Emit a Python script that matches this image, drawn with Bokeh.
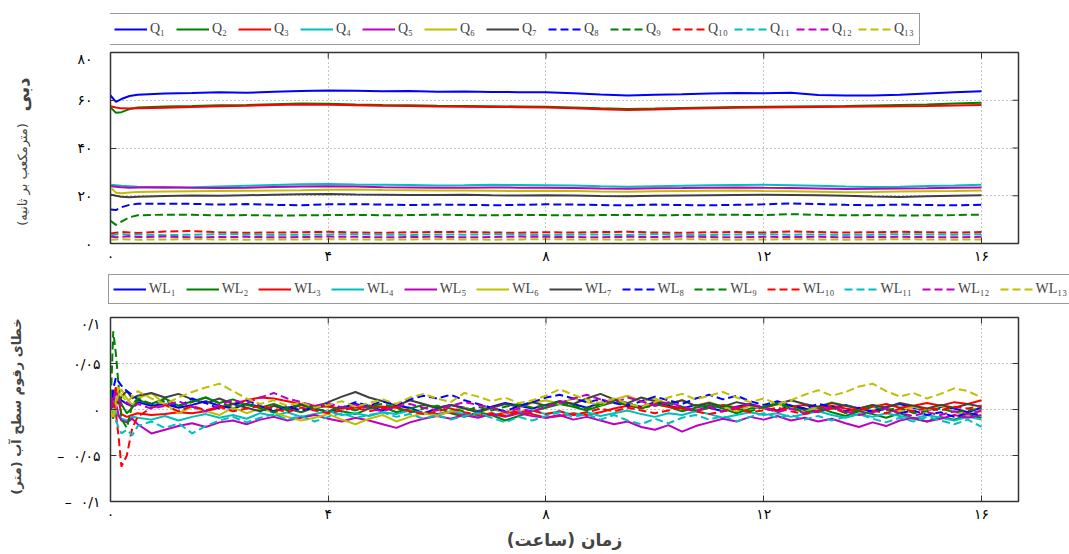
from math import pi
from bokeh.plotting import figure
from bokeh.models import FixedTicker, Label, Range1d, Legend
from bokeh.layouts import column, row
from bokeh.embed import file_html
from bokeh.resources import INLINE

# ---------------- data ----------------
t_q = [0, 0.1, 0.2, 0.35,
       0.5, 1.0, 1.5, 2.0, 2.5, 3.0, 3.5, 4.0,
       4.5, 5.0, 5.5, 6.0, 6.5, 7.0, 7.5, 8.0,
       8.5, 9.0, 9.5, 10.0, 10.5, 11.0, 11.5, 12.0,
       12.5, 13.0, 13.5, 14.0, 14.5, 15.0, 15.5, 16.0]

Q1 = [62.0, 59.3, 60.5, 61.8,
      62.3, 62.8, 63.0, 63.3, 63.1, 63.6, 63.9, 64.1,
      64.0, 63.8, 63.9, 63.6, 63.7, 63.5, 63.4, 63.3,
      62.9, 62.4, 62.0, 62.3, 62.5, 62.8, 63.0, 62.9,
      63.1, 62.2, 62.0, 62.0, 62.3, 62.8, 63.3, 63.8]
Q2 = [57.0, 54.8, 55.0, 56.3,
      57.0, 57.4, 57.6, 57.9, 58.0, 58.3, 58.6, 58.5,
      58.2, 58.0, 57.9, 57.7, 57.6, 57.5, 57.4, 57.3,
      57.0, 56.6, 56.3, 56.5, 56.8, 57.0, 57.2, 57.3,
      57.4, 57.5, 57.6, 57.8, 58.0, 58.2, 58.6, 59.0]
Q3 = [57.5, 57.0, 56.6, 56.5,
      56.6, 56.9, 57.2, 57.5, 57.7, 58.0, 58.2, 58.1,
      57.9, 57.7, 57.6, 57.4, 57.3, 57.2, 57.1, 57.0,
      56.7, 56.2, 55.9, 56.1, 56.4, 56.7, 56.9, 57.0,
      57.1, 57.2, 57.3, 57.4, 57.5, 57.6, 57.8, 58.0]
Q4 = [24.6, 24.4, 24.2, 24.0,
      23.8, 23.5, 23.6, 23.9, 24.2, 24.5, 24.8, 24.9,
      24.7, 24.6, 24.5, 24.3, 24.4, 24.6, 24.5, 24.4,
      24.3, 24.0, 23.8, 24.0, 24.2, 24.4, 24.5, 24.6,
      24.4, 24.2, 23.9, 23.7, 23.8, 24.1, 24.3, 24.6]
Q5 = [24.0, 23.8, 23.6, 23.4,
      23.5, 23.6, 23.3, 23.2, 23.4, 23.7, 23.9, 24.0,
      23.9, 23.6, 23.5, 23.4, 23.3, 23.5, 23.4, 23.3,
      23.2, 23.0, 22.9, 23.1, 23.2, 23.4, 23.5, 23.3,
      23.2, 23.0, 22.8, 22.9, 23.0, 23.1, 23.3, 23.5]
Q6 = [23.5, 21.3, 21.0, 21.4,
      21.6, 21.8, 21.9, 22.0, 22.1, 22.2, 22.3, 22.5,
      22.6, 22.4, 22.3, 22.2, 22.2, 22.1, 22.0, 22.1,
      22.0, 21.8, 21.7, 21.9, 22.0, 22.1, 22.2, 22.0,
      21.9, 21.7, 21.5, 21.6, 21.8, 21.9, 22.0, 22.2]
Q7 = [20.5, 20.0, 19.6, 19.4,
      19.6, 19.9, 20.1, 20.0, 20.2, 20.4, 20.6, 20.7,
      20.5, 20.4, 20.3, 20.3, 20.4, 20.2, 20.1, 20.2,
      20.1, 19.9, 19.8, 20.0, 20.1, 20.2, 20.3, 20.4,
      20.3, 20.2, 20.0, 19.7, 19.5, 19.8, 20.0, 20.2]
Q8 = [14.2, 14.0, 15.2, 16.2,
      16.6, 16.7, 16.6, 16.3, 16.5, 16.2, 16.0, 16.4,
      16.5, 16.3, 16.1, 16.3, 16.2, 16.0, 16.2, 16.4,
      16.3, 16.1, 16.0, 16.3, 16.1, 16.0, 16.2, 16.4,
      16.8, 16.5, 16.2, 16.0, 16.3, 16.1, 16.0, 16.2]
Q9 = [9.5, 7.8, 9.2, 11.0,
      11.8, 12.1, 12.0, 11.8, 11.9, 11.7, 11.8, 11.9,
      12.0, 11.8, 11.9, 12.1, 11.9, 11.8, 12.0, 11.9,
      11.8, 11.9, 12.0, 11.8, 11.9, 12.1, 12.0, 11.9,
      12.3, 12.0, 11.8, 11.9, 11.7, 11.8, 11.9, 12.1]
Q10 = [4.2, 4.5, 4.8, 4.6,
       4.4, 5.0, 5.2, 4.7, 4.5, 4.6, 4.7, 4.9,
       4.6, 4.5, 4.7, 4.8, 4.9, 4.6, 4.5, 4.7,
       4.6, 4.8, 4.9, 4.6, 4.5, 4.7, 4.8, 4.6,
       5.0, 4.8, 4.6, 4.7, 4.9, 4.7, 4.6, 4.8]
Q11 = [3.5, 3.8, 4.0, 3.6,
       3.8, 3.5, 3.7, 3.9, 3.8, 3.6, 3.7, 3.8,
       3.9, 3.7, 3.6, 3.8, 3.7, 3.9, 3.8, 3.6,
       3.7, 3.8, 3.6, 3.9, 3.7, 3.6, 3.8, 3.9,
       3.7, 3.8, 3.6, 3.7, 3.9, 3.8, 3.7, 3.9]
Q12 = [2.9, 2.6, 2.8, 3.0,
       2.7, 2.9, 2.6, 2.7, 2.8, 2.6, 2.7, 2.9,
       2.8, 2.6, 2.7, 2.8, 2.6, 2.7, 2.9, 2.8,
       2.7, 2.6, 2.8, 2.7, 2.9, 2.7, 2.6, 2.8,
       2.7, 2.8, 2.6, 2.7, 2.8, 2.7, 2.6, 2.8]
Q13 = [1.6, 1.7, 1.8, 1.7,
       1.6, 1.7, 1.8, 1.7, 1.6, 1.7, 1.7, 1.8,
       1.7, 1.6, 1.7, 1.8, 1.7, 1.6, 1.7, 1.8,
       1.7, 1.7, 1.6, 1.7, 1.8, 1.7, 1.6, 1.7,
       1.8, 1.7, 1.6, 1.7, 1.8, 1.7, 1.6, 1.7]

t_wl = [0, 0.05, 0.1, 0.15, 0.2, 0.3, 0.4,
        0.5, 0.75,
        1, 1.25, 1.5, 1.75, 2, 2.25, 2.5, 2.75, 3, 3.25, 3.5, 3.75,
        4, 4.25, 4.5, 4.75, 5, 5.25, 5.5, 5.75, 6, 6.25, 6.5, 6.75,
        7, 7.25, 7.5, 7.75, 8, 8.25, 8.5, 8.75, 9, 9.25, 9.5, 9.75,
        10, 10.25, 10.5, 10.75, 11, 11.25, 11.5, 11.75, 12, 12.25, 12.5, 12.75,
        13, 13.25, 13.5, 13.75, 14, 14.25, 14.5, 14.75, 15, 15.25, 15.5, 15.75,
        16]

WL1 = [0, .012, .02, .015, .01, .006, .004,
       .008, .004,
       .006, .002, .005, .009, .004, .001, .006, .003, -.002, .002, .005, .001,
       -.003, .002, .006, .003, -.001, .004, .002, -.004, .001, .005, .002, -.002,
       .003, .007, .004, .001, .005, .009, .006, .002, .007, .011, .006, .003,
       .008, .004, .001, .005, .002, -.002, .003, .006, .002, -.001, .004, .001,
       -.003, .002, .005, .001, -.002, .003, .006, .002, -.001, .003, .001, -.003,
       .002]
WL2 = [0, -.01, .008, .014, .006, -.004, .002,
       .01, .006,
       .012, .004, .009, .013, .007, .011, .005, .002, .006, .001, -.003, .002,
       .004, -.002, -.005, .001, .003, -.003, .001, .005, .002, -.004, -.008, -.003,
       -.006, -.012, -.007, -.002, .002, .006, .003, -.001, .004, .008, .005, .001,
       .006, .003, -.002, .002, .005, .001, -.004, .001, .003, .007, .004, -.001,
       .002, -.003, -.007, -.002, -.005, -.009, -.004, -.010, -.013, -.008, -.011, -.006,
       -.009]
WL3 = [0, .015, .024, .01, -.005, -.008, -.006,
       -.004, -.006,
       -.005, -.003, -.004, -.002, .002, .006, .01, .013, .012, .009, .006, .004,
       .003, .001, .002, .004, .003, .002, -.002, -.004, -.005, -.003, -.006, -.008,
       -.006, -.004, -.002, -.005, -.009, -.007, -.004, -.006, -.003, .001, .004, .002,
       .006, .003, .001, -.002, .002, .005, .002, .004, .001, -.002, .003, .005,
       .002, .004, .001, -.001, .003, .006, .002, .004, .007, .004, .008, .006,
       .01]
WL4 = [0, .006, -.004, -.008, -.01, -.012, -.008,
       -.009, -.011,
       -.007, -.012, -.008, -.005, -.009, -.006, -.01, -.004, -.007, -.003, -.008, -.005,
       -.002, -.006, -.004, -.007, -.003, -.005, -.001, -.004, -.006, -.002, -.005, -.008,
       -.004, -.007, -.003, -.001, -.005, -.002, -.006, -.003, -.007, -.004, -.001, -.005,
       -.008, -.004, -.006, -.002, -.005, -.009, -.006, -.003, -.006, -.004, -.008, -.005,
       -.002, -.006, -.009, -.005, -.008, -.004, -.007, -.01, -.006, -.009, -.012, -.008,
       -.011]
WL5 = [0, .02, .006, -.006, -.012, -.014, -.01,
       -.016, -.026,
       -.022, -.018, -.015, -.019, -.014, -.012, -.016, -.011, -.008, -.012, -.009, -.006,
       -.01, -.013, -.009, -.012, -.016, -.02, -.014, -.01, -.007, -.01, -.006, -.009,
       -.005, -.008, -.004, -.007, -.009, -.006, -.011, -.008, -.012, -.016, -.013, -.019,
       -.022, -.017, -.024, -.018, -.014, -.01, -.013, -.008, -.011, -.007, -.012, -.009,
       -.013, -.01, -.015, -.019, -.014, -.018, -.012, -.009, -.013, -.01, -.006, -.009,
       -.006]
WL6 = [0, -.008, .004, .016, .022, .012, .005,
       .012, .018,
       .006, -.004, .003, -.002, -.006, .002, -.004, .001, -.003, -.008, -.012, -.009,
       -.005, -.011, -.016, -.01, -.006, -.013, -.008, -.004, -.007, -.002, .002, -.003,
       .001, -.004, .003, .007, .01, .006, .012, .008, .005, .011, .015, .009,
       .012, .006, .01, .004, .008, .003, -.002, .004, .001, .006, .002, -.003,
       .003, .008, .004, .001, .005, .002, -.002, .003, -.001, .004, -.003, -.006,
       -.002]
WL7 = [0, .004, .01, .006, .014, .02, .012,
       .015, .018,
       .013, .017, .011, .007, .012, .006, .002, -.002, .004, -.001, .005, .002,
       .008, .014, .019, .013, .009, .004, .01, .006, .002, .005, .001, -.003,
       .002, .006, .003, .008, .004, .009, .006, .012, .017, .011, .007, .013,
       .009, .006, .01, .004, .007, .003, .008, .005, .002, .006, .01, .006,
       .003, .007, .004, .001, .005, .002, .007, .004, .001, .005, .002, .006,
       .003]
WL8 = [0, .022, .035, .03, .026, .02, .016,
       .011, .006,
       .009, .003, .012, .007, .001, .005, .01, .004, -.002, .003, -.001, .002,
       .006, .002, .008, .004, .009, .005, .011, .015, .012, .016, .01, .006,
       .002, -.002, .004, .008, .013, .016, .012, .008, .011, .007, .004, .009,
       .014, .01, .006, .012, .016, .011, .015, .009, .005, .009, .004, .001,
       .006, .003, -.002, .002, -.003, .001, -.004, -.001, -.006, -.003, -.008, -.004,
       -.006]
WL9 = [0, .085, .06, .025, -.01, -.02, .005,
       .012, .006,
       .01, .004, .008, .013, .007, .003, .006, .001, -.003, .002, .005, .001,
       -.002, .003, -.001, .004, .006, .002, -.003, .001, .004, .001, -.002, .003,
       -.001, .003, .006, .002, .005, .008, .004, .001, .006, .009, .005, .002,
       .004, .007, .003, -.001, .002, .005, .001, -.002, .003, .006, .002, -.003,
       -.001, .002, -.004, -.001, .003, -.001, .002, -.004, -.002, .001, -.003, -.001,
       .001]
WL10 = [0, .01, -.005, -.03, -.062, -.05, -.02,
        -.008, .002,
        .005, -.002, .004, -.001, .003, -.002, .001, .004, .001, -.003, .002, -.001,
        -.004, -.001, .002, -.002, .001, .003, -.002, -.005, -.002, .001, -.003, -.006,
        -.004, -.007, -.003, -.001, -.005, -.002, -.006, -.003, .001, -.002, .002, -.001,
        -.004, -.001, .003, -.002, -.005, -.002, .001, -.003, -.001, .002, -.002, -.005,
        -.002, .001, -.003, .002, -.001, -.004, .001, -.002, .002, -.001, .003, .001,
        .004]
WL11 = [0, -.004, -.012, -.02, -.026, -.022, -.028,
        -.018, -.013,
        -.02, -.015, -.026, -.018, -.012, -.008, -.014, -.009, -.005, -.011, -.007, -.013,
        -.008, -.004, -.009, -.006, -.003, -.008, -.005, -.01, -.006, -.011, -.007, -.004,
        -.009, -.014, -.008, -.012, -.007, -.003, -.008, -.005, -.011, -.006, -.012, -.016,
        -.01, -.015, -.009, -.006, -.011, -.007, -.013, -.008, -.004, -.009, -.006, -.011,
        -.007, -.012, -.008, -.005, -.01, -.014, -.009, -.013, -.008, -.012, -.016, -.011,
        -.019]
WL12 = [0, .01, .018, .012, .004, .008, .002,
        .006, .001,
        .004, .009, .003, -.002, .005, .01, .007, .013, .018, .012, .008, .004,
        .007, .002, .005, .001, -.002, .003, .006, .002, -.001, .004, .008, .005,
        .002, -.003, .001, -.002, .003, .007, .012, .016, .011, .007, .013, .009,
        .004, .008, .003, -.001, .003, -.002, .002, .006, .002, -.003, .001, -.004,
        -.001, .003, -.002, -.006, -.003, .001, -.004, -.007, -.003, -.006, -.002, -.005,
        -.001]
WL13 = [0, -.01, .01, .024, .016, .008, .014,
        .02, .012,
        .006, .013, .019, .024, .028, .02, .012, .006, .01, .004, .008, .002,
        .005, .009, .003, .007, .011, .006, .013, .017, .012, .008, .018, .014,
        .009, .013, .007, .01, .015, .022, .016, .011, .007, .012, .006, .003,
        .008, .013, .017, .011, .015, .019, .013, .008, .012, .006, .01, .016,
        .021, .015, .019, .025, .028, .02, .014, .018, .012, .017, .023, .02,
        .013]

q_series = [Q1, Q2, Q3, Q4, Q5, Q6, Q7, Q8, Q9, Q10, Q11, Q12, Q13]
wl_series = [WL1, WL2, WL3, WL4, WL5, WL6, WL7, WL8, WL9, WL10, WL11, WL12, WL13]
q_labels = ["Q₁", "Q₂", "Q₃", "Q₄", "Q₅", "Q₆", "Q₇", "Q₈", "Q₉", "Q₁₀", "Q₁₁", "Q₁₂", "Q₁₃"]
wl_labels = ["WL₁", "WL₂", "WL₃", "WL₄", "WL₅", "WL₆", "WL₇", "WL₈", "WL₉", "WL₁₀", "WL₁₁", "WL₁₂", "WL₁₃"]

x_ticks = [0, 4, 8, 12, 16]
x_tick_labels = ["۰", "۴", "۸", "۱۲", "۱۶"]
q_ticks = [0, 20, 40, 60, 80]
q_tick_labels = ["۰", "۲۰", "۴۰", "۶۰", "۸۰"]
wl_ticks = [-0.1, -0.05, 0, 0.05, 0.1]
wl_tick_labels = ["–\u00a0\u00a0۰/۱", "–\u00a0\u00a0۰/۰۵", "۰", "۰/۰۵", "۰/۱"]

for s in q_series:
    assert len(s) == len(t_q), len(s)
for s in wl_series:
    assert len(s) == len(t_wl), len(s)

colors = ["#0000FF", "#008000", "#FF0000", "#00BFBF", "#BF00BF", "#BFBF00", "#404040",
          "#0000FF", "#008000", "#FF0000", "#00BFBF", "#BF00BF", "#BFBF00"]
dashes = ["solid"] * 7 + ["8 4"] * 6

FA = "DejaVu Sans"
LEG = "Liberation Serif"
DARK = "#333333"
X_MAX = 16.68
LAB_W = 48
FIG_W = 1013


def blank_fig(width, height, yr=(0, 1)):
    return figure(width=width, height=height, output_backend="svg", toolbar_location=None,
                  x_range=Range1d(0, 1), y_range=Range1d(*yr),
                  x_axis_type=None, y_axis_type=None, min_border=0,
                  outline_line_color=None)


def make_fig(height, top, bottom, yr, yticks, ylabels, ystandoff):
    p = figure(width=FIG_W, height=height, output_backend="svg", toolbar_location=None,
               x_range=Range1d(0, X_MAX), y_range=Range1d(*yr),
               min_border_left=110 - LAB_W, min_border_right=43,
               min_border_top=top, min_border_bottom=bottom)
    p.outline_line_color = DARK
    p.outline_line_width = 1.5
    p.xaxis.ticker = FixedTicker(ticks=x_ticks)
    p.xaxis.major_label_overrides = dict(zip(x_ticks, x_tick_labels))
    p.yaxis.ticker = FixedTicker(ticks=yticks)
    p.yaxis.major_label_overrides = dict(zip(yticks, ylabels))
    p.yaxis.major_label_standoff = ystandoff
    p.xaxis.major_label_standoff = 4
    for ax in p.xaxis + p.yaxis:
        ax.major_tick_in = 6
        ax.major_tick_out = 0
        ax.minor_tick_line_color = None
        ax.axis_line_color = DARK
        ax.major_tick_line_color = DARK
        ax.major_label_text_font = FA
        ax.major_label_text_font_size = "14px"
        ax.major_label_text_color = "black"
    p.xgrid.ticker = FixedTicker(ticks=x_ticks)
    p.ygrid.ticker = FixedTicker(ticks=yticks)
    for g in (p.xgrid, p.ygrid):
        g.grid_line_color = "#888888"
        g.grid_line_dash = "1 3"
        g.grid_line_width = 1
    # mirrored inward ticks on top and right edges (half of each dash is clipped by the frame)
    p.scatter(x_ticks, [yr[1]] * len(x_ticks), marker="dash", angle=pi / 2, size=12,
              line_color=DARK, line_width=1)
    p.scatter([X_MAX] * len(yticks), yticks, marker="dash", size=12,
              line_color=DARK, line_width=1)
    return p


def legend_fig(width, height, t, series, labels, x_off, y_off, pad, spacing):
    # the series are drawn again here only to give the legend its samples;
    # the y range of this strip lies far above every value, so no line shows
    lf = blank_fig(width, height, yr=(1000, 1001))
    items = []
    for s, lab, c, d in zip(series, labels, colors, dashes):
        r = lf.line(t, s, line_color=c, line_width=2, line_dash=d)
        items.append((lab, [r]))
    lg = Legend(items=items, location=(x_off, y_off), orientation="horizontal",
                label_text_font=LEG, label_text_font_size="14px",
                glyph_width=33, glyph_height=20, label_height=20, label_standoff=3,
                spacing=spacing, padding=pad, margin=0,
                border_line_color=DARK, border_line_width=1, background_fill_alpha=1.0)
    lf.add_layout(lg, "center")
    return lf


# ---------------- top panel ----------------
leg1 = legend_fig(FIG_W, 50, t_q, q_series, q_labels, -2, 5, 5, 6)
p1 = make_fig(218, 2, 25, (0, 80), q_ticks, q_tick_labels, 18)
for s, c, d in zip(q_series, colors, dashes):
    p1.line(t_q, s, line_color=c, line_width=2, line_dash=d)

# ---------------- bottom panel ----------------
# this strip sits in its own row so that it spans the full page width
leg2 = legend_fig(LAB_W + FIG_W + 8, 47, t_wl, wl_series, wl_labels, 108, 11, 4, 10)
p2 = make_fig(237, 2, 45, (-0.1, 0.1), wl_ticks, wl_tick_labels, 10)
for s, c, d in zip(wl_series, colors, dashes):
    p2.line(t_wl, s, line_color=c, line_width=2, line_dash=d)
xa = p2.below[0]
xa.axis_label = "زمان (ساعت)"
xa.axis_label_text_font = FA
xa.axis_label_text_font_style = "bold"
xa.axis_label_text_font_size = "17px"
xa.axis_label_standoff = 5

# ---------------- vertical axis titles ----------------
lab_top = blank_fig(LAB_W, 268)
lab_top.add_layout(Label(x=22, y=174, x_units="screen", y_units="screen", text="دبی",
                         angle=pi / 2, text_font=FA, text_font_style="bold", text_font_size="18px",
                         text_align="center", text_baseline="middle"))
lab_top.add_layout(Label(x=22, y=94, x_units="screen", y_units="screen", text="(مترمکعب بر ثانیه)",
                         angle=pi / 2, text_font=FA, text_font_size="13px",
                         text_align="center", text_baseline="middle"))
# this strip's frame lines up with the lower plot's frame, so y is measured from its bottom
lab_bot = blank_fig(LAB_W, 237)
lab_bot.add_layout(Label(x=16, y=95, x_units="screen", y_units="screen", text="خطای رقوم سطح آب (متر)",
                         angle=pi / 2, text_font=FA, text_font_style="bold", text_font_size="13px",
                         text_align="center", text_baseline="middle"))

layout = column(row(lab_top, column(leg1, p1)), leg2, row(lab_bot, p2))
open("out.html", "w").write(file_html(layout, INLINE))
